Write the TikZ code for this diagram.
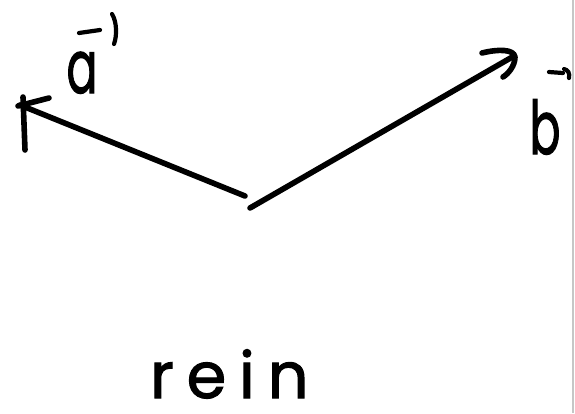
\documentclass[tikz,border=0pt]{standalone}
\usepackage{fontspec}
\newfontfamily\handfont{Poppins}[FakeBold=1.6]
\begin{document}
\begin{tikzpicture}[x=1pt,y=-1pt,
  stroke/.style={line width=5.6pt,line cap=round,line join=round,black},
  thinstroke/.style={line width=4.2pt,line cap=round,line join=round,black},
  lbl/.style={inner sep=0pt,outer sep=0pt,transform shape,xscale=0.62,font=\handfont\fontsize{74}{74}\selectfont},
  word/.style={inner sep=0pt,outer sep=0pt,font=\handfont\fontsize{64}{64}\selectfont}]
\useasboundingbox (0,0) rectangle (575,413);
\fill[white] (0,0) rectangle (575,413);
% right edge of the screen
\draw[line width=2pt,gray!45] (572.5,0) -- (572.5,413);
% points
\coordinate (oa) at (245,196);
\coordinate (ob) at (250,208);
\coordinate (ta) at (20,105);
\coordinate (tb) at (514,56);
% vector a
\draw[stroke] (oa) -- (ta);
\draw[stroke] (23,97) -- (25,150);
\draw[stroke] (18,106) -- (49,98);
% vector b
\draw[stroke] (ob) -- (tb);
\draw[stroke] (482,53) .. controls (498,49) and (514,49) .. (515,57) .. controls (515,66) and (508,74) .. (503,77);
% labels
\node[lbl,anchor=base] (la) at (82,93) {a};
\draw[thinstroke] (79,33) -- (100,30);
\draw[thinstroke] (112,14) .. controls (117,22) and (117,36) .. (114,44);
\node[lbl,anchor=base] (lb) at (545,154) {b};
\draw[thinstroke] (549,72) -- (563,73);
\draw[thinstroke] (564,69) .. controls (568,70) and (570,73) .. (569,78);
% word
\node[word,anchor=base west] (w) at (150,398) {r\kern0.2em e\kern0.2em i\kern0.2em n};
\end{tikzpicture}
\end{document}
